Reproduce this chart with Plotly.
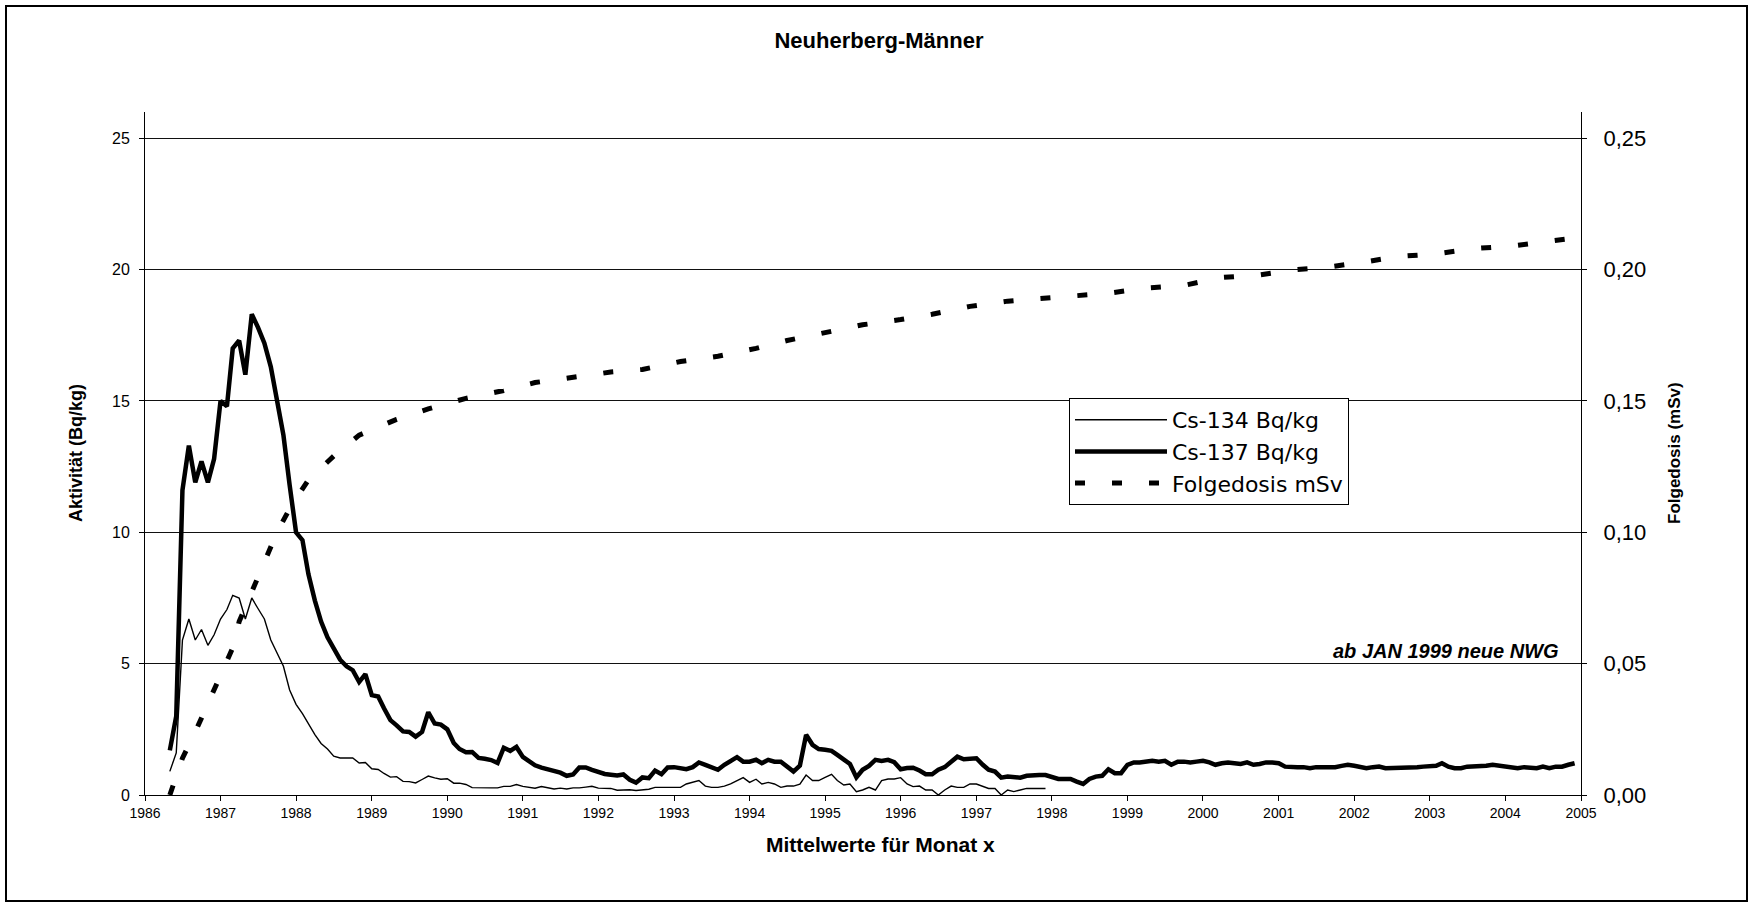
import plotly.graph_objects as go

# ---------------- data ----------------
start_year, start_month = 1986, 5

cs137 = [
    # 1986 May-Dec
    1.7, 3.0, 11.6, 13.3, 11.9, 12.7, 11.9, 12.8,
    # 1987
    15.0, 14.8, 17.0, 17.3, 16.0, 18.3, 17.8, 17.2, 16.3, 14.9, 13.7, 11.8,
    # 1988
    10.0, 9.7, 8.4, 7.4, 6.6, 6.0, 5.6, 5.15, 4.9, 4.75, 4.3, 4.6,
    # 1989
    3.8, 3.75, 3.3, 2.85, 2.65, 2.42, 2.4, 2.22, 2.4, 3.15, 2.72, 2.68,
    # 1990
    2.5, 1.98, 1.75, 1.63, 1.64, 1.41, 1.38, 1.33, 1.22, 1.8, 1.68, 1.83,
    # 1991
    1.45, 1.28, 1.13, 1.04, 0.97, 0.9, 0.85, 0.73, 0.78, 1.05, 1.05, 0.96,
    # 1992
    0.87, 0.8, 0.77, 0.74, 0.78, 0.58, 0.47, 0.67, 0.64, 0.93, 0.79, 1.05,
    # 1993
    1.06, 1.02, 0.98, 1.06, 1.24, 1.15, 1.06, 0.96, 1.15, 1.27, 1.44, 1.27,
    # 1994
    1.27, 1.34, 1.21, 1.34, 1.27, 1.27, 1.06, 0.89, 1.12, 2.29, 1.91, 1.75,
    # 1995
    1.72, 1.68, 1.53, 1.36, 1.18, 0.67, 0.96, 1.11, 1.34, 1.30, 1.34, 1.25,
    # 1996
    0.98, 1.03, 1.04, 0.93, 0.79, 0.79, 0.96, 1.06, 1.24, 1.46, 1.36, 1.36,
    # 1997
    1.40, 1.15, 0.96, 0.89, 0.66, 0.70, 0.70, 0.66, 0.73, 0.76, 0.76, 0.76,
    # 1998
    0.70, 0.61, 0.61, 0.61, 0.51, 0.42, 0.61, 0.70, 0.73, 0.98, 0.83, 0.83,
    # 1999
    1.15, 1.24, 1.24, 1.27, 1.30, 1.27, 1.30, 1.15, 1.27, 1.27, 1.24, 1.27,
    # 2000
    1.30, 1.24, 1.15, 1.21, 1.24, 1.21, 1.18, 1.24, 1.15, 1.18, 1.24, 1.24,
    # 2001
    1.21, 1.08, 1.06, 1.06, 1.06, 1.02, 1.06, 1.06, 1.02, 1.06, 1.11, 1.15,
    # 2002
    1.11, 1.06, 1.02, 1.06, 1.08, 1.02, 1.02, 1.02, 1.02, 1.02, 1.06, 1.08,
    # 2003
    1.11, 1.11, 1.21, 1.08, 1.02, 1.02, 1.08, 1.08, 1.08, 1.11, 1.15, 1.11,
    # 2004
    1.08, 1.06, 1.02, 1.06, 1.06, 1.02, 1.08, 1.02, 1.08, 1.08, 1.15, 1.21,
]

cs134 = [
    # 1986 May-Dec
    0.9, 1.6, 5.9, 6.7, 5.9, 6.3, 5.7, 6.1,
    # 1987
    6.7, 7.06, 7.6, 7.5, 6.7, 7.5, 7.1, 6.7, 5.9, 5.4, 4.9, 4.0,
    # 1988
    3.45, 3.1, 2.7, 2.3, 1.96, 1.75, 1.48, 1.41, 1.41, 1.41, 1.22, 1.24,
    # 1989
    1.0, 0.97, 0.82, 0.68, 0.70, 0.52, 0.51, 0.46, 0.59, 0.72, 0.65, 0.60,
    # 1990
    0.62, 0.45, 0.45, 0.40, 0.28, 0.27, 0.27, 0.27, 0.27, 0.33, 0.33, 0.40,
    # 1991
    0.33, 0.30, 0.26, 0.32, 0.27, 0.23, 0.26, 0.23, 0.27, 0.27, 0.30, 0.33,
    # 1992
    0.26, 0.26, 0.25, 0.18, 0.20, 0.20, 0.17, 0.19, 0.22, 0.29, 0.29, 0.29,
    # 1993
    0.29, 0.29, 0.42, 0.48, 0.55, 0.34, 0.29, 0.29, 0.34, 0.42, 0.55, 0.66,
    # 1994
    0.48, 0.60, 0.42, 0.48, 0.42, 0.29, 0.34, 0.34, 0.41, 0.76, 0.55, 0.55,
    # 1995
    0.67, 0.79, 0.55, 0.38, 0.42, 0.13, 0.19, 0.29, 0.19, 0.55, 0.61, 0.61,
    # 1996
    0.66, 0.42, 0.32, 0.34, 0.19, 0.19, 0.0, 0.19, 0.34, 0.29, 0.29, 0.42,
    # 1997
    0.42, 0.34, 0.25, 0.25, 0.0, 0.19, 0.13, 0.19, 0.25, 0.25, 0.25, 0.25,
]

dose_dates = [
    "1986-05", "1986-07", "1986-09", "1986-11", "1987-01", "1987-03", "1987-04",
    "1987-06", "1987-08", "1987-10", "1987-12", "1988-03", "1988-07", "1988-11",
    "1989-05", "1989-10", "1990-04", "1990-10", "1991-03", "1991-09", "1992-03",
    "1992-08", "1993-02", "1993-08", "1994-02", "1994-07", "1995-01", "1995-07",
    "1996-01", "1996-06", "1996-12", "1997-06", "1997-11", "1998-05", "1998-10",
    "1999-04", "1999-10", "2000-04", "2000-10", "2001-04", "2001-09", "2002-03",
    "2002-08", "2003-02", "2003-08", "2004-02", "2004-08", "2004-12",
]
dose_msv = [
    0.000, 0.014, 0.024, 0.035, 0.046, 0.056, 0.066,
    0.077, 0.089, 0.100, 0.109, 0.120, 0.129, 0.137,
    0.143, 0.147, 0.151, 0.154, 0.157, 0.159, 0.161,
    0.162, 0.165, 0.167, 0.170, 0.173, 0.176, 0.179,
    0.181, 0.183, 0.186, 0.188, 0.189, 0.190, 0.191,
    0.193, 0.194, 0.197, 0.198, 0.200, 0.201, 0.203,
    0.205, 0.206, 0.208, 0.209, 0.211, 0.212,
]

year_labels = [str(y) for y in range(1986, 2006)]
left_ticks = [0, 5, 10, 15, 20, 25]
right_ticks = [0.0, 0.05, 0.10, 0.15, 0.20, 0.25]


def month_list(n):
    out = []
    y, m = start_year, start_month
    for _ in range(n):
        out.append(f"{y:04d}-{m:02d}-01")
        m += 1
        if m > 12:
            m = 1
            y += 1
    return out


x137 = month_list(len(cs137))
x134 = month_list(len(cs134))
xdose = [d + "-01" for d in dose_dates]

FONT = "Liberation Sans, Arial, sans-serif"
LEGFONT = "DejaVu Sans, Liberation Sans, Arial, sans-serif"

# ---------------- geometry (pixels of the 1753x906 canvas) ----------------
W, H = 1753, 906
PL, PR, PT, PB = 145, 1581, 112, 795
pw, ph = PR - PL, PB - PT


def px(x):
    return (x - PL) / pw


def py(y):
    return (PB - y) / ph


fig = go.Figure()
fig.add_trace(go.Scatter(
    x=x134, y=cs134, name="Cs-134 Bq/kg", mode="lines",
    line=dict(color="black", width=1.4),
))
fig.add_trace(go.Scatter(
    x=x137, y=cs137, name="Cs-137 Bq/kg", mode="lines",
    line=dict(color="black", width=4.5),
))
fig.add_trace(go.Scatter(
    x=xdose, y=dose_msv, name="Folgedosis mSv", mode="lines", yaxis="y2",
    line=dict(color="black", width=5, dash="10px,27px"),
))

fig.update_layout(
    width=W, height=H,
    margin=dict(l=PL, r=W - PR, t=PT, b=H - PB, pad=0),
    paper_bgcolor="white", plot_bgcolor="white",
    separators=",.",
    font=dict(family=FONT, color="black"),
    showlegend=True,
    title=dict(
        text="<b>Neuherberg-Männer</b>", font=dict(size=22, family=FONT, color="black"),
        x=879 / W, xref="container", xanchor="center",
        y=1 - 40 / H, yref="container", yanchor="middle",
    ),
    xaxis=dict(
        type="date", range=["1986-01-01", "2005-01-01"],
        tickvals=[f"{y}-01-01" for y in year_labels], ticktext=year_labels,
        showgrid=False, zeroline=False,
        showline=True, linecolor="black", linewidth=1,
        ticks="outside", ticklen=5, tickcolor="black", tickwidth=1,
        tickfont=dict(size=14, family=FONT, color="black"),
        fixedrange=True,
    ),
    yaxis=dict(
        range=[0, 26], tickvals=left_ticks, ticktext=[str(v) for v in left_ticks],
        showgrid=True, gridcolor="#111111", gridwidth=1, zeroline=False,
        showline=True, linecolor="black", linewidth=1,
        ticks="outside", ticklen=5, tickcolor="black",
        ticklabelstandoff=6,
        tickfont=dict(size=16, family=FONT, color="black"),
    ),
    yaxis2=dict(
        range=[0, 0.26], tickvals=right_ticks, tickformat=".2f",
        overlaying="y", side="right", showgrid=False, zeroline=False,
        showline=True, linecolor="black", linewidth=1,
        ticks="outside", ticklen=5, tickcolor="black",
        ticklabelstandoff=12,
        tickfont=dict(size=22, family=FONT, color="black"),
    ),
    legend=dict(
        x=px(1069), y=py(398), xanchor="left", yanchor="top",
        bgcolor="white", bordercolor="black", borderwidth=1,
        font=dict(size=22, family=LEGFONT, color="black"),
        itemwidth=92, tracegroupgap=0,
    ),
    annotations=[
        dict(text="<b>Aktivität (Bq/kg)</b>", xref="paper", yref="paper",
             x=px(76), y=py(453), textangle=-90, showarrow=False,
             xanchor="center", yanchor="middle",
             font=dict(size=18, family=FONT, color="black")),
        dict(text="<b>Folgedosis (mSv)</b>", xref="paper", yref="paper",
             x=px(1674), y=py(453), textangle=-90, showarrow=False,
             xanchor="center", yanchor="middle",
             font=dict(size=17, family=FONT, color="black")),
        dict(text="<b>Mittelwerte für Monat x</b>", xref="paper", yref="paper",
             x=px(880), y=py(844), showarrow=False,
             xanchor="center", yanchor="middle",
             font=dict(size=21, family=FONT, color="black")),
        dict(text="<b><i>ab JAN 1999 neue NWG</i></b>", xref="paper", yref="y",
             x=px(1561), y=5, showarrow=False,
             xanchor="right", yanchor="bottom", yshift=0,
             font=dict(size=20, family=FONT, color="black")),
    ],
    shapes=[
        dict(type="rect", xref="paper", yref="paper",
             x0=px(6), x1=px(1747), y0=py(901), y1=py(6),
             line=dict(color="black", width=2), fillcolor="rgba(0,0,0,0)",
             layer="below"),
    ],
)

fig.write_html(
    "out.html",
    config={"displayModeBar": False},
    post_script="document.body.style.margin='0';document.body.style.overflow='hidden';",
)
